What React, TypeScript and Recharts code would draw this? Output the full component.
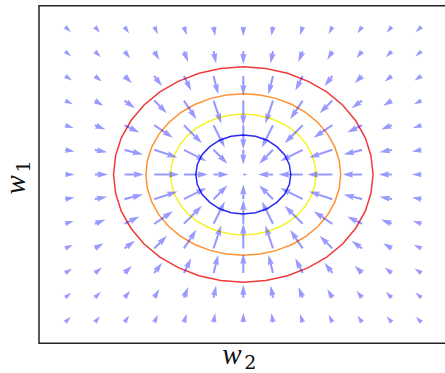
import React from "react"
import { ScatterChart, Scatter, XAxis, YAxis, ReferenceArea } from "recharts"

// grid of the quiver plot
const W2_GRID = [-6, -5, -4, -3, -2, -1, 0, 1, 2, 3, 4, 5, 6]
const W1_GRID = [6, 5, 4, 3, 2, 1, 0, -1, -2, -3, -4, -5, -6]

// arrow components, row = w1 (top to bottom), column = w2 (left to right)
const U = [
  [0.57, 0.51, 0.46, 0.38, 0.28, 0.16, 0, -0.16, -0.28, -0.38, -0.46, -0.51, -0.57],
  [0.61, 0.6, 0.56, 0.51, 0.43, 0.25, 0, -0.25, -0.43, -0.51, -0.56, -0.6, -0.61],
  [0.69, 0.7, 0.74, 0.78, 0.74, 0.46, 0, -0.46, -0.74, -0.78, -0.74, -0.7, -0.69],
  [0.76, 0.86, 1.04, 1.27, 1.25, 0.77, 0, -0.77, -1.25, -1.27, -1.04, -0.86, -0.76],
  [0.85, 1.07, 1.48, 1.87, 1.8, 1.12, 0, -1.12, -1.8, -1.87, -1.48, -1.07, -0.85],
  [0.94, 1.23, 1.84, 2.32, 2.24, 1.38, 0, -1.38, -2.24, -2.32, -1.84, -1.23, -0.94],
  [0.95, 1.3, 1.95, 2.5, 2.4, 1.5, 0.45, -1.5, -2.4, -2.5, -1.95, -1.3, -0.95],
  [0.94, 1.23, 1.84, 2.32, 2.24, 1.38, 0, -1.38, -2.24, -2.32, -1.84, -1.23, -0.94],
  [0.85, 1.07, 1.48, 1.87, 1.8, 1.12, 0, -1.12, -1.8, -1.87, -1.48, -1.07, -0.85],
  [0.76, 0.86, 1.04, 1.27, 1.25, 0.77, 0, -0.77, -1.25, -1.27, -1.04, -0.86, -0.76],
  [0.69, 0.7, 0.74, 0.78, 0.74, 0.46, 0, -0.46, -0.74, -0.78, -0.74, -0.7, -0.69],
  [0.61, 0.6, 0.56, 0.51, 0.43, 0.25, 0, -0.25, -0.43, -0.51, -0.56, -0.6, -0.61],
  [0.57, 0.51, 0.46, 0.38, 0.28, 0.16, 0, -0.16, -0.28, -0.38, -0.46, -0.51, -0.57],
]
const V = [
  [-0.57, -0.61, -0.69, -0.76, -0.85, -0.94, -0.95, -0.94, -0.85, -0.76, -0.69, -0.61, -0.57],
  [-0.51, -0.6, -0.7, -0.86, -1.07, -1.23, -1.3, -1.23, -1.07, -0.86, -0.7, -0.6, -0.51],
  [-0.46, -0.56, -0.74, -1.04, -1.48, -1.84, -1.95, -1.84, -1.48, -1.04, -0.74, -0.56, -0.46],
  [-0.38, -0.51, -0.78, -1.27, -1.87, -2.32, -2.5, -2.32, -1.87, -1.27, -0.78, -0.51, -0.38],
  [-0.28, -0.43, -0.74, -1.25, -1.8, -2.24, -2.4, -2.24, -1.8, -1.25, -0.74, -0.43, -0.28],
  [-0.16, -0.25, -0.46, -0.77, -1.12, -1.38, -1.5, -1.38, -1.12, -0.77, -0.46, -0.25, -0.16],
  [0, 0, 0, 0, 0, 0, 0, 0, 0, 0, 0, 0, 0],
  [0.16, 0.25, 0.46, 0.77, 1.12, 1.38, 1.5, 1.38, 1.12, 0.77, 0.46, 0.25, 0.16],
  [0.28, 0.43, 0.74, 1.25, 1.8, 2.24, 2.4, 2.24, 1.8, 1.25, 0.74, 0.43, 0.28],
  [0.38, 0.51, 0.78, 1.27, 1.87, 2.32, 2.5, 2.32, 1.87, 1.27, 0.78, 0.51, 0.38],
  [0.46, 0.56, 0.74, 1.04, 1.48, 1.84, 1.95, 1.84, 1.48, 1.04, 0.74, 0.56, 0.46],
  [0.51, 0.6, 0.7, 0.86, 1.07, 1.23, 1.3, 1.23, 1.07, 0.86, 0.7, 0.6, 0.51],
  [0.57, 0.61, 0.69, 0.76, 0.85, 0.94, 0.95, 0.94, 0.85, 0.76, 0.69, 0.61, 0.57],
]

// contour lines, [w2, w1]
const RED_LEVEL = [[4.37,0],[4.30,0.76],[4.11,1.49],[3.78,2.19],[3.35,2.81],[2.81,3.35],[2.19,3.78],[1.49,4.11],[0.76,4.30],[0,4.37],[-0.76,4.30],[-1.49,4.11],[-2.19,3.78],[-2.81,3.35],[-3.35,2.81],[-3.78,2.19],[-4.11,1.49],[-4.30,0.76],[-4.37,0],[-4.30,-0.76],[-4.11,-1.49],[-3.78,-2.19],[-3.35,-2.81],[-2.81,-3.35],[-2.19,-3.78],[-1.49,-4.11],[-0.76,-4.30],[0,-4.37],[0.76,-4.30],[1.49,-4.11],[2.19,-3.78],[2.81,-3.35],[3.35,-2.81],[3.78,-2.19],[4.11,-1.49],[4.30,-0.76],[4.37,0]]
const ORANGE_LEVEL = [[3.28,0],[3.23,0.57],[3.08,1.12],[2.84,1.64],[2.51,2.11],[2.11,2.51],[1.64,2.84],[1.12,3.08],[0.57,3.23],[0,3.28],[-0.57,3.23],[-1.12,3.08],[-1.64,2.84],[-2.11,2.51],[-2.51,2.11],[-2.84,1.64],[-3.08,1.12],[-3.23,0.57],[-3.28,0],[-3.23,-0.57],[-3.08,-1.12],[-2.84,-1.64],[-2.51,-2.11],[-2.11,-2.51],[-1.64,-2.84],[-1.12,-3.08],[-0.57,-3.23],[0,-3.28],[0.57,-3.23],[1.12,-3.08],[1.64,-2.84],[2.11,-2.51],[2.51,-2.11],[2.84,-1.64],[3.08,-1.12],[3.23,-0.57],[3.28,0]]
const YELLOW_LEVEL = [[2.45,0],[2.41,0.43],[2.30,0.84],[2.12,1.23],[1.88,1.58],[1.58,1.88],[1.23,2.12],[0.84,2.30],[0.43,2.41],[0,2.45],[-0.43,2.41],[-0.84,2.30],[-1.23,2.12],[-1.58,1.88],[-1.88,1.58],[-2.12,1.23],[-2.30,0.84],[-2.41,0.43],[-2.45,0],[-2.41,-0.43],[-2.30,-0.84],[-2.12,-1.23],[-1.88,-1.58],[-1.58,-1.88],[-1.23,-2.12],[-0.84,-2.30],[-0.43,-2.41],[0,-2.45],[0.43,-2.41],[0.84,-2.30],[1.23,-2.12],[1.58,-1.88],[1.88,-1.58],[2.12,-1.23],[2.30,-0.84],[2.41,-0.43],[2.45,0]]
const BLUE_LEVEL = [[1.6,0],[1.55,0.41],[1.39,0.8],[1.13,1.13],[0.8,1.39],[0.41,1.55],[0,1.6],[-0.41,1.55],[-0.8,1.39],[-1.13,1.13],[-1.39,0.8],[-1.55,0.41],[-1.6,0],[-1.55,-0.41],[-1.39,-0.8],[-1.13,-1.13],[-0.8,-1.39],[-0.41,-1.55],[0,-1.6],[0.41,-1.55],[0.8,-1.39],[1.13,-1.13],[1.39,-0.8],[1.55,-0.41],[1.6,0]]

const X_DOMAIN = [-6.88, 6.88]
const Y_DOMAIN = [-6.85, 6.85]
const PX_PER_UNIT = 10
const SHAFT = 2.1

const arrows = W1_GRID.flatMap((w1, i) =>
  W2_GRID.map((w2, j) => ({ w2, w1, u: U[i][j], v: V[i][j] }))
)
const toPts = (level: number[][]) => level.map(([w2, w1]) => ({ w2, w1 }))

// matplotlib-style quiver arrow, tail at the grid point
function Arrow(props: any) {
  const { cx, cy, payload } = props
  const dx = payload.u * PX_PER_UNIT
  const dy = -payload.v * PX_PER_UNIT
  const len = Math.hypot(dx, dy)
  if (!len) return <g />
  const hl = 5 * SHAFT, hal = 4.5 * SHAFT, hw = 1.5 * SHAFT, sw = 0.5 * SHAFT
  let pts: number[][]
  if (len >= hl) {
    pts = [[0, sw], [len - hal, sw], [len - hl, hw], [len, 0], [len - hl, -hw], [len - hal, -sw], [0, -sw]]
  } else {
    const s = len / hl
    pts = [[0, sw], [hl - hal, sw], [0, hw], [hl, 0], [0, -hw], [hl - hal, -sw], [0, -sw]].map(([a, b]) => [a * s, b * s])
  }
  const c = dx / len, sn = dy / len
  const str = pts.map(([a, b]) => `${cx + a * c - b * sn},${cy + a * sn + b * c}`).join(" ")
  return <polygon points={str} fill="#0000ff" fillOpacity={0.4} />
}

const XLabel = ({ viewBox }: any) => {
  const cx = viewBox.x + viewBox.width / 2
  return (
    <g>
      <text x={cx - 21} y={364} fontFamily="Liberation Serif" fontStyle="italic" fontSize={29} fill="#111">w</text>
      <text x={cx + 1} y={369} fontFamily="DejaVu Serif" fontSize={19} fill="#111">2</text>
    </g>
  )
}

const YLabel = ({ viewBox }: any) => {
  const cy = viewBox.y + viewBox.height / 2
  return (
    <g transform={`translate(25, ${cy + 20}) rotate(-90)`}>
      <text x={0} y={0} fontFamily="Liberation Serif" fontStyle="italic" fontSize={29} fill="#111">w</text>
      <text x={22} y={5} fontFamily="DejaVu Serif" fontSize={19} fill="#111">1</text>
    </g>
  )
}

const noDot = () => <g />

export default function App() {
  return (
    <div style={{ position: "absolute", left: 0, top: 0, width: 445, height: 373, overflow: "hidden", background: "#fff" }}>
      <ScatterChart width={449} height={373} margin={{ top: 5.7, right: 1.4, bottom: 0, left: 0 }}>
        <XAxis type="number" dataKey="w2" domain={X_DOMAIN} allowDataOverflow height={29.7}
          tick={false} tickLine={false} axisLine={false} label={<XLabel />} />
        <YAxis type="number" dataKey="w1" domain={Y_DOMAIN} allowDataOverflow width={39}
          tick={false} tickLine={false} axisLine={false} label={<YLabel />} />
        <Scatter data={toPts(RED_LEVEL)} shape={noDot} line={{ stroke: "#f03a3a", strokeWidth: 1.5 }} isAnimationActive={false} />
        <Scatter data={toPts(ORANGE_LEVEL)} shape={noDot} line={{ stroke: "#ff9233", strokeWidth: 1.5 }} isAnimationActive={false} />
        <Scatter data={toPts(YELLOW_LEVEL)} shape={noDot} line={{ stroke: "#f4f22a", strokeWidth: 1.5 }} isAnimationActive={false} />
        <Scatter data={toPts(BLUE_LEVEL)} shape={noDot} line={{ stroke: "#2a2aee", strokeWidth: 1.5 }} isAnimationActive={false} />
        <Scatter data={arrows} shape={<Arrow />} isAnimationActive={false} />
        <ReferenceArea x1={X_DOMAIN[0]} x2={X_DOMAIN[1]} y1={Y_DOMAIN[0]} y2={Y_DOMAIN[1]}
          fill="none" stroke="#222" strokeWidth={1.5} ifOverflow="visible" />
      </ScatterChart>
    </div>
  )
}
